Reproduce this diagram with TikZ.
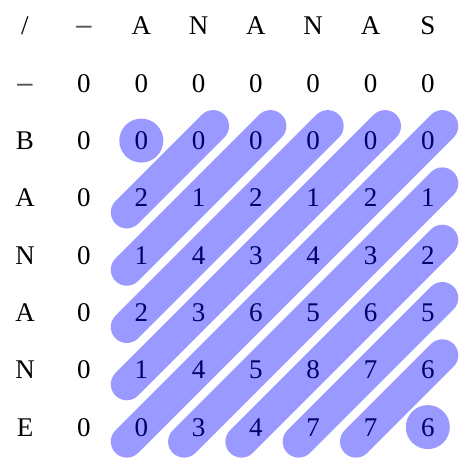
\documentclass[tikz,border=0pt]{standalone}
\usepackage{fontspec}
\setmainfont{Liberation Serif}
\usetikzlibrary{backgrounds}
\definecolor{bandblue}{RGB}{153,153,255}
\definecolor{navy}{RGB}{0,0,102}
\definecolor{dashgray}{RGB}{85,85,85}
\begin{document}
\begin{tikzpicture}[x=1pt,y=-1pt,
  cell/.style={inner sep=0pt, text height=17.8pt, text depth=0pt, font=\fontsize{27}{30}\selectfont},
  dashcell/.style={cell, text=dashgray, font=\fontsize{27}{30}\selectfont\bfseries, xscale=1.12, yshift=1pt},
  innercell/.style={cell, text=navy},
  band/.style={line width=32pt, line cap=round, draw=bandblue}]
\useasboundingbox (0,0) rectangle (459,459);
% header row
\node[cell] (h0) at (25,26) {/};
\node[dashcell] (h1) at (84,26) {\textendash};
\foreach \t [count=\j from 2] in {A,N,A,N,A,S}{
  \pgfmathsetmacro\xx{84+57.3*(\j-1)}
  \node[cell] (h\j) at (\xx,26) {\t};
}
% second row
\node[dashcell] (z0) at (25,83.3) {\textendash};
\foreach \j in {1,...,7}{
  \pgfmathsetmacro\xx{84+57.3*(\j-1)}
  \node[cell] (z\j) at (\xx,83.3) {0};
}
% row labels and first zero column
\foreach \t [count=\i] in {B,A,N,A,N,E}{
  \pgfmathsetmacro\yy{26+57.3*(\i+1)}
  \node[cell] (l\i) at (25,\yy) {\t};
  \node[cell] (k\i) at (84,\yy) {0};
}
% inner matrix
\foreach \row [count=\i] in {{0,0,0,0,0,0},{2,1,2,1,2,1},{1,4,3,4,3,2},{2,3,6,5,6,5},{1,4,5,8,7,6},{0,3,4,7,7,6}}{
  \foreach \v [count=\j] in \row {
    \pgfmathsetmacro\xx{84+57.3*\j}
    \pgfmathsetmacro\yy{26+57.3*(\i+1)}
    \node[innercell] (m\i\j) at (\xx,\yy) {\v};
  }
}
\begin{scope}[on background layer]
  \fill[bandblue] (m11.center) circle[radius=22];
  \fill[bandblue] (m66.center) circle[radius=22];
  \foreach \d in {3,...,11}{
    \pgfmathtruncatemacro\ra{min(6,\d-1)}
    \pgfmathtruncatemacro\ca{\d-\ra}
    \pgfmathtruncatemacro\cb{min(6,\d-1)}
    \pgfmathtruncatemacro\rb{\d-\cb}
    \draw[band] ([shift={(-14.5,14.5)}]m\ra\ca.center) -- ([shift={(14.5,-14.5)}]m\rb\cb.center);
  }
\end{scope}
\end{tikzpicture}
\end{document}
